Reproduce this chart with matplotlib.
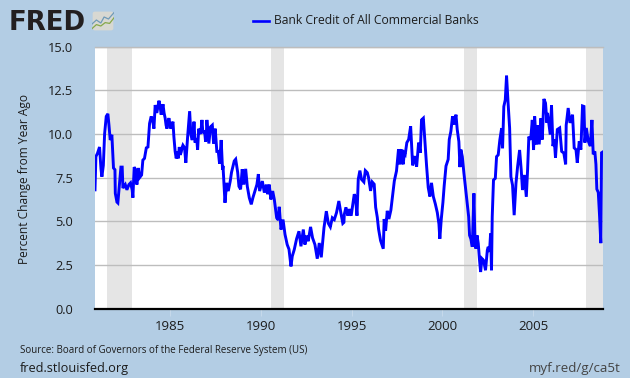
import matplotlib
matplotlib.use("Agg")
import matplotlib.pyplot as plt
from matplotlib.patches import FancyBboxPatch

years_a = [1980.84,1980.89,1980.98,1981.09,1981.17,1981.22,1981.30,1981.37,1981.46,1981.55,1981.61,1981.68,1981.77,1981.86,1981.94,1981.96,1982.05,1982.10,1982.20,1982.27,1982.34,1982.38,1982.51,1982.60,1982.71,1982.80,1982.89,1982.93,1983.00,1983.08,1983.15,1983.23,1983.30,1983.41,1983.48,1983.57,1983.67,1983.76,1983.85,1983.94,1984.03,1984.09,1984.16,1984.25,1984.37,1984.49,1984.59,1984.71,1984.81,1984.92,1985.01,1985.14,1985.19,1985.32,1985.43,1985.49,1985.60,1985.69,1985.78,1985.85,1985.95,1986.06,1986.13,1986.20,1986.30,1986.42,1986.50,1986.61,1986.74,1986.83,1986.94,1987.01,1987.12,1987.21,1987.31,1987.38,1987.47,1987.56,1987.64,1987.71,1987.80,1987.875]
values_a = [6.8,8.7,8.9,9.25,8.0,7.55,8.2,10.0,11.0,11.15,10.5,9.65,9.95,8.05,7.95,6.6,6.1,6.05,7.3,8.1,8.1,6.9,7.1,6.8,7.1,7.2,6.8,6.35,8.1,7.95,7.1,8.05,7.5,7.65,8.5,8.6,9.2,9.25,10.6,11.0,10.7,10.3,11.65,11.2,11.9,11.1,11.7,10.9,10.3,10.9,10.3,10.7,9.85,8.6,8.6,9.25,8.98,9.35,9.2,8.35,9.85,11.3,9.95,9.65,10.7,9.75,9.1,10.1,10.8,10.05,9.55,10.8,9.45,10.4,10.5,9.45,10.3,9.0,9.0,8.3,9.65,7.95]

years_b = [1987.90,1988.01,1988.10,1988.19,1988.30,1988.37,1988.52,1988.60,1988.71,1988.78,1988.87,1988.96,1989.05,1989.15,1989.24,1989.35,1989.46,1989.55,1989.66,1989.77,1989.85,1989.92,1990.07,1990.18,1990.29,1990.36,1990.45,1990.54,1990.64,1990.73,1990.86,1990.95,1991.00,1991.10,1991.21,1991.32,1991.44,1991.54,1991.65,1991.72,1991.83,1991.96,1992.09,1992.20,1992.33,1992.42,1992.51,1992.60,1992.73,1992.84,1992.97,1993.10,1993.21,1993.32,1993.47,1993.60,1993.71,1993.82,1993.93,1994.04,1994.16,1994.29,1994.40,1994.51,1994.59]
values_b = [8.17,6.06,7.2,6.73,7.3,7.8,8.45,8.55,7.8,7.0,6.83,7.98,7.1,8.0,7.0,6.35,5.97,6.35,6.73,7.1,7.7,6.73,7.3,6.64,7.1,6.55,7.1,6.25,6.73,6.25,5.2,5.07,5.83,4.53,5.1,4.25,3.67,3.4,2.42,3.0,3.38,4.0,4.43,3.57,4.53,3.67,4.18,3.86,4.68,4.05,3.67,2.86,3.76,2.94,4.63,5.58,4.88,4.68,5.2,5.1,5.49,6.16,5.49,4.88,5.39]

years_c = [1994.57,1994.68,1994.79,1994.86,1994.97,1995.05,1995.14,1995.21,1995.29,1995.36,1995.45,1995.54,1995.67,1995.75,1995.86,1995.93,1996.04,1996.13,1996.24,1996.32,1996.41,1996.48,1996.59,1996.74,1996.79,1996.87,1996.96,1997.05,1997.16,1997.25,1997.35,1997.47,1997.58,1997.66,1997.75,1997.84,1997.95,1998.04,1998.14,1998.25,1998.36,1998.47,1998.58,1998.69,1998.78,1998.85,1998.95,1999.04,1999.13,1999.22,1999.31,1999.40,1999.50,1999.61,1999.72,1999.81,1999.86,1999.94,2000.03,2000.10,2000.20,2000.32,2000.38,2000.47,2000.56,2000.65,2000.75,2000.82]
values_c = [4.94,5.8,5.32,5.7,5.32,5.9,6.55,6.36,5.32,7.4,7.9,7.4,7.25,7.9,7.78,7.5,6.74,7.25,7.12,5.8,5.23,4.56,3.9,3.43,5.13,4.47,5.6,5.13,5.64,6.42,7.31,7.88,9.11,8.26,9.11,8.26,8.83,9.5,9.68,10.44,8.2,8.73,8.13,9.5,8.92,10.8,10.9,9.5,8.16,6.93,6.42,7.2,6.42,6.0,5.5,4.85,4.0,5.13,6.08,7.03,8.16,8.54,9.68,10.15,11.0,10.53,11.1,10.25]

years_d = [2000.91,2000.97,2001.02,2001.10,2001.19,2001.28,2001.37,2001.45,2001.50,2001.57,2001.65,2001.74,2001.80,2001.85,2001.91,2001.98,2002.05,2002.11,2002.18,2002.27,2002.38,2002.48,2002.53,2002.60,2002.66,2002.71,2002.75,2002.82,2002.92,2002.99,2003.08,2003.17,2003.27,2003.32,2003.39,2003.47,2003.54,2003.62,2003.71,2003.78,2003.87,2003.96,2004.06,2004.15,2004.26,2004.35,2004.42,2004.52,2004.63,2004.70,2004.77,2004.87,2004.96,2005.03,2005.09]
values_d = [9.56,8.1,9.1,8.7,7.74,6.88,6.0,5.26,4.2,4.0,3.54,6.6,3.73,3.44,4.2,3.73,2.77,2.1,2.87,2.77,2.2,3.35,3.54,3.25,4.3,2.2,5.26,7.36,7.46,8.7,8.8,9.66,10.33,9.18,11.57,11.95,13.33,11.85,10.33,7.55,7.07,5.35,7.17,8.13,9.08,7.93,6.79,7.65,6.4,7.93,9.85,9.66,10.8,9.08,11.0]

years_e = [2005.18,2005.25,2005.34,2005.44,2005.51,2005.60,2005.69,2005.77,2005.80,2005.95,2006.02,2006.10,2006.17,2006.24,2006.34,2006.47,2006.58,2006.70,2006.80,2006.83,2006.94,2007.04,2007.18,2007.27,2007.37,2007.44,2007.55,2007.64,2007.73,2007.81,2007.86,2007.94,2008.05,2008.16,2008.25,2008.32,2008.41,2008.47,2008.52,2008.60,2008.67,2008.74,2008.78,2008.84]
values_e = [9.4,10.5,9.4,10.9,9.68,12.0,11.76,10.63,11.2,9.96,11.63,9.3,9.68,8.64,10.25,10.34,9.0,8.9,8.26,10.5,11.48,10.63,11.1,9.2,9.1,8.35,9.58,9.1,11.6,11.57,9.5,10.34,9.58,9.3,10.8,8.83,9.0,8.26,6.84,6.65,5.32,3.75,8.92,8.96]

# further readings from the most jagged stretches
years_f = [1984.44,1984.65,1984.76,1984.86,1985.26,1985.38,1985.54,1985.64,1986.26,1986.36,1986.46,1986.56,1986.67,1986.78,1986.88,1986.98,1987.07,1987.17,1997.62,1997.70,1997.80,1997.90]
values_f = [11.5,11.2,10.5,10.7,9.0,9.0,8.8,9.2,10.0,9.5,9.6,10.3,10.0,10.2,10.2,9.9,10.1,10.0,8.7,9.0,8.4,8.9]

pairs = sorted(zip(years_a + years_b + years_c + years_d + years_e + years_f,
                   values_a + values_b + values_c + values_d + values_e + values_f))
dates = [p[0] for p in pairs]
series = [p[1] for p in pairs]

recessions = [(1981.50, 1982.86), (1990.54, 1991.26), (2001.22, 2001.92), (2007.93, 2008.86)]
y_ticks = [0.0, 2.5, 5.0, 7.5, 10.0, 12.5, 15.0]
x_ticks = [1985, 1990, 1995, 2000, 2005]
series_name = "Bank Credit of All Commercial Banks"
y_title = "Percent Change from Year Ago"
source = "Source: Board of Governors of the Federal Reserve System (US)"

BG = "#B3CDE4"
TXT = "#1c1c1c"
plt.rcParams["font.family"] = ["Open Sans", "DejaVu Sans"]
W, H = 630, 378
fig = plt.figure(figsize=(W / 100, H / 100), dpi=100, facecolor=BG)
ax = fig.add_axes([95 / W, 1 - 308.7 / H, 508 / W, 262.2 / H])
ax.set_facecolor("white")
ax.set_xlim(1980.84, 2008.86)
ax.set_ylim(0, 15)

for a, b in recessions:
    ax.axvspan(a, b, color="#E5E5E5", lw=0, zorder=1)
ax.set_yticks(y_ticks)
ax.set_yticklabels([f"{v:.1f}" for v in y_ticks], fontsize=9.2, color=TXT)
ax.set_xticks(x_ticks)
ax.set_xticklabels([str(v) for v in x_ticks], fontsize=9.5, color=TXT)
ax.grid(axis="y", color="#BDBDBD", lw=1, zorder=2)
ax.tick_params(axis="y", length=0, pad=16)
ax.tick_params(axis="x", length=5, width=0.8, color="#C5D8EA", pad=3)
for s in ("left", "right"):
    ax.spines[s].set_visible(False)
ax.spines["top"].set_color("#BDBDBD")
ax.spines["top"].set_linewidth(1)
ax.spines["bottom"].set_color("black")
ax.spines["bottom"].set_linewidth(1.6)

ax.plot(dates, series, color="#0000FF", lw=2.1, solid_joinstyle="miter", zorder=3)

ax.set_ylabel(y_title, fontsize=8.6, color=TXT)
ax.yaxis.set_label_coords(-64 / 508, 0.495)

# legend
fig.add_artist(plt.Line2D([253 / W, 268.5 / W], [1 - 20.5 / H] * 2, color="#0000FF", lw=1.9))
fig.text(274 / W, 1 - 20.5 / H, series_name, fontsize=8.7, va="center", ha="left", color=TXT)

# footer
fig.text(20 / W, 1 - 351 / H, source, fontsize=7.0, va="center", ha="left", color=TXT)
fig.text(20 / W, 1 - 368.5 / H, "fred.stlouisfed.org", fontsize=9.15, va="center", ha="left", color=TXT)
fig.text(621 / W, 1 - 368.5 / H, "myf.red/g/ca5t", fontsize=9.6, va="center", ha="right", color="#444444")

# logo
fig.text(9 / W, 1 - 30.5 / H, "FRED", fontsize=18.7, fontweight="bold", family="DejaVu Sans",
         va="baseline", ha="left", color="#231F20")
logo = fig.add_axes([92 / W, 1 - 31 / H, 22 / W, 20 / H])
logo.set_xlim(0, 1); logo.set_ylim(0, 1); logo.axis("off")
logo.add_patch(FancyBboxPatch((0.03, 0.03), 0.94, 0.94, boxstyle="round,pad=0,rounding_size=0.1",
                              fc="#D8D8D2", ec="none"))
logo.plot([0, .2, .4, .55, .75, 1], [.35, .55, .4, .7, .6, .92], color="#6F9AB8", lw=0.9)
logo.plot([0, .2, .4, .6, .8, 1], [.12, .32, .25, .42, .38, .66], color="#86A84A", lw=0.9)

fig.savefig("out.png", dpi=100, facecolor=BG)
